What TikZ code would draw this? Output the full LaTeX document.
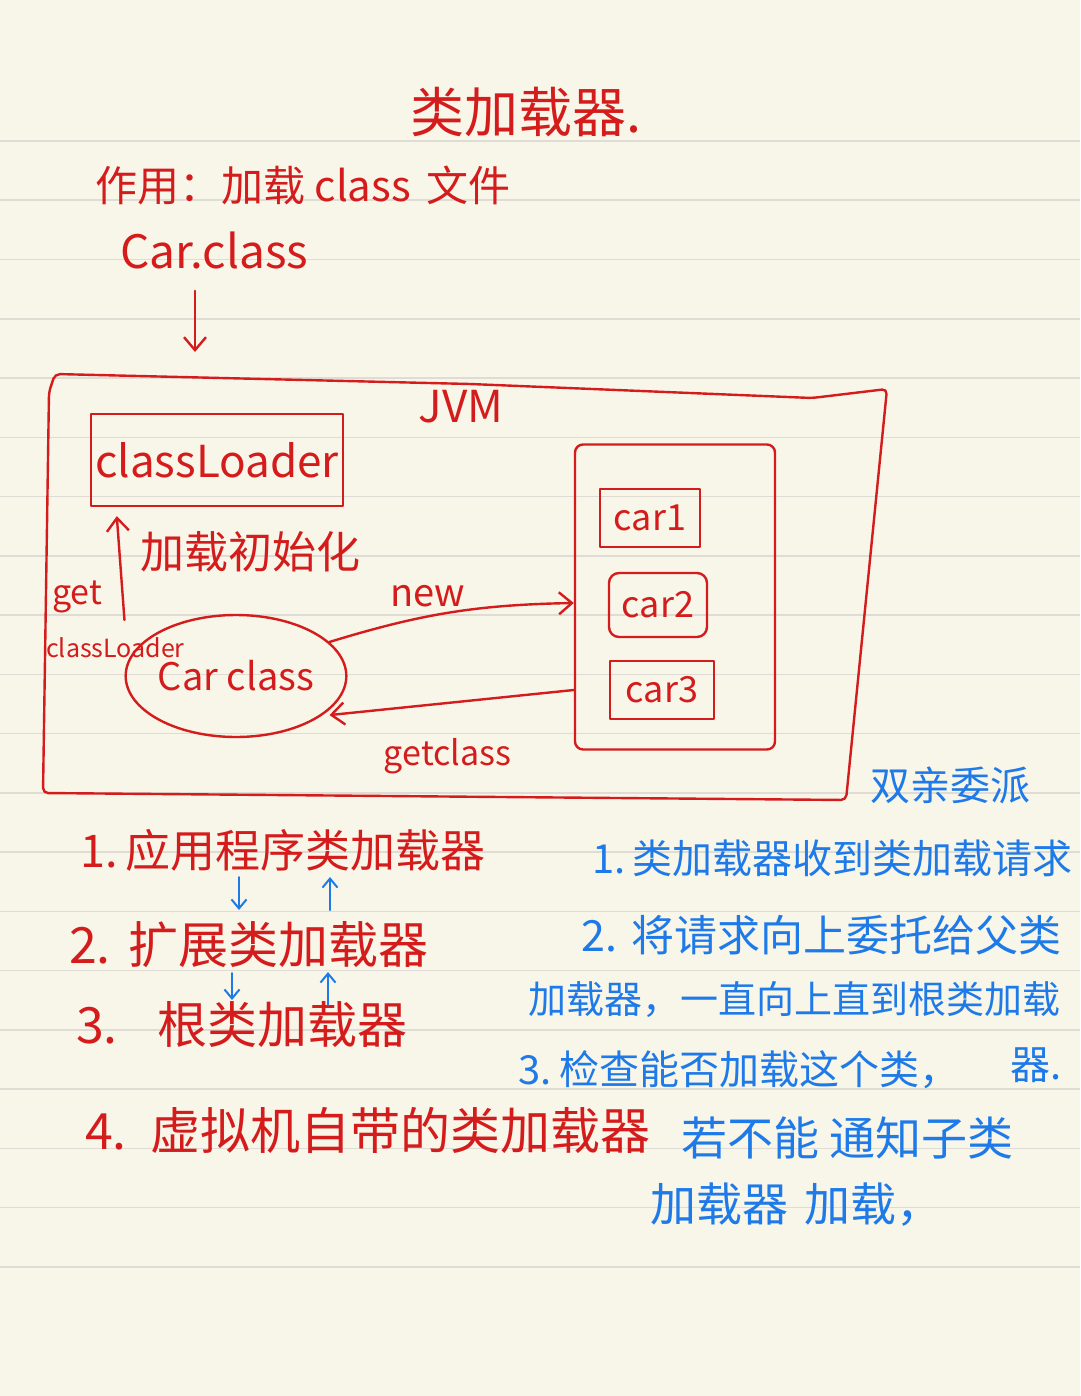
\documentclass[tikz,border=0pt]{standalone}
\usepackage{fontspec}
\newfontfamily\hand{Noto Sans CJK SC}
\usepackage{tikz}
\usetikzlibrary{positioning,shapes.geometric,arrows.meta}
\definecolor{paper}{RGB}{248,245,233}
\definecolor{rulegray}{RGB}{222,220,212}
\definecolor{penred}{RGB}{212,28,28}
\definecolor{penblue}{RGB}{30,122,232}

\begin{document}
\begin{tikzpicture}[x=1pt,y=-1pt,
    ink/.style={text=penred,font=\hand\fontsize{#1}{#1}\selectfont,inner sep=0pt},
    bink/.style={text=penblue,font=\hand\fontsize{#1}{#1}\selectfont,inner sep=0pt},
    redline/.style={draw=penred,line width=2.4pt,line cap=round,line join=round},
    redbox/.style={rectangle,redline},
    blueline/.style={draw=penblue,line width=2pt,line cap=round},
    arr/.style={-{Straight Barb[length=13pt,width=22pt,line width=2.4pt]}},
    barr/.style={-{Straight Barb[length=9pt,width=15pt,line width=2pt]}}]
  \useasboundingbox (0,0) rectangle (1080,1396);
  \fill[paper] (0,0) rectangle (1080,1396);
  \foreach \i in {0,...,19}
    \draw[rulegray,line width=1.6pt] (0,{141+59.26*\i}) -- (1080,{141+59.26*\i});

  % heading
  \node[ink=54,anchor=west] (title) at (410,112) {类加载器.};
  \node[ink=42,anchor=west] (role) at (95,185) {作用：加载 class\hspace{16pt}文件};
  \node[ink=46,anchor=west] (carfile) at (120,250) {Car.class};
  \coordinate (jvmin) at (195,352);
  \draw[redline,arr,shorten <=22pt] (carfile.south -| jvmin) -- (jvmin);

  % JVM
  \draw[redline,rounded corners=5pt] (55,374) -- (470,384) -- (812,398) -- (887,389)
    -- (846,800) -- (43,793) -- (49,392) -- cycle;
  \node[ink=44] (jvm) at (461,407) {JVM};
  \node[ink=44,redbox,minimum width=252pt,minimum height=92pt] (loader) at (217,460) {classLoader};
  \node[ink=38,ellipse,redline,minimum width=216pt,minimum height=122pt] (carclass) at (236,676) {Car class};
  \draw[redline,arr] ([yshift=56pt]carclass.west) -- ([xshift=27pt,yshift=-9pt]loader.south west);
  \node[ink=44,anchor=west] (init) at (140,552) {加载初始化};
  \node[ink=34,anchor=west] (get) at (52,597) {get};
  \node[ink=25,anchor=west] (getname) at (46,648) {classLoader};

  % heap
  \node[redbox,rounded corners=8pt,minimum width=200pt,minimum height=305pt] (heap) at (675,597) {};
  \node[ink=36,redbox,minimum width=100pt,minimum height=58pt] (car1) at (650,518) {car1};
  \node[ink=36,redbox,rounded corners=10pt,minimum width=98pt,minimum height=64pt] (car2) at (658,605) {car2};
  \node[ink=36,redbox,minimum width=104pt,minimum height=58pt] (car3) at (662,690) {car3};
  \draw[redline,arr] (carclass.20) to[bend left=8] node[ink=38,pos=0.4,above=8pt] {new} ([yshift=-6pt]heap.west);
  \draw[redline,arr,shorten >=8pt] (heap.west |- car3) -- node[ink=34,below=34pt] {getclass} (carclass.-25);

  % loaders
  \node[bink=40,anchor=west] (dual) at (870,785) {双亲委派};
  \node[ink=45,anchor=west] (item1) at (80,850) {1.\,应用程序类加载器};
  \node[ink=50,anchor=west] (item2) at (69,945) {2.\hspace{18pt}扩展类加载器};
  \node[ink=50,anchor=west] (item3) at (76,1025) {3.\hspace{40pt}根类加载器};
  \node[ink=50,anchor=west] (item4) at (85,1130) {4.\hspace{24pt}虚拟机自带的类加载器};
  \draw[blueline,barr] ([xshift=159pt,yshift=-27pt]item1.west) -- ([xshift=170pt,yshift=35pt]item2.west);
  \draw[blueline,barr] ([xshift=261pt,yshift=35pt]item2.west) -- ([xshift=250pt,yshift=-27pt]item1.west);
  \draw[blueline,barr] ([xshift=163pt,yshift=-28pt]item2.west) -- ([xshift=156pt,yshift=25pt]item3.west);
  \draw[blueline,barr] ([xshift=252pt,yshift=20pt]item3.west) -- ([xshift=259pt,yshift=-27pt]item2.west);

  % delegation steps
  \node[bink=40,anchor=west] (step1) at (592,858) {1.\,类加载器收到类加载请求};
  \node[bink=43,anchor=west] (step2) at (581,935) {2.\hspace{14pt}将请求向上委托给父类};
  \node[bink=38,anchor=west] (step2b) at (528,1000) {加载器，一直向上直到根类加载};
  \node[bink=40,anchor=west] (step2c) at (1010,1065) {器.};
  \node[bink=40,anchor=west] (step3) at (518,1070) {3.\hspace{8pt}检查能否加载这个类，};
  \node[bink=46,anchor=west] (step3b) at (681,1138) {若不能\hspace{10pt}通知子类};
  \node[bink=46,anchor=west] (step3c) at (650,1205) {加载器\hspace{16pt}加载，};
\end{tikzpicture}
\end{document}
